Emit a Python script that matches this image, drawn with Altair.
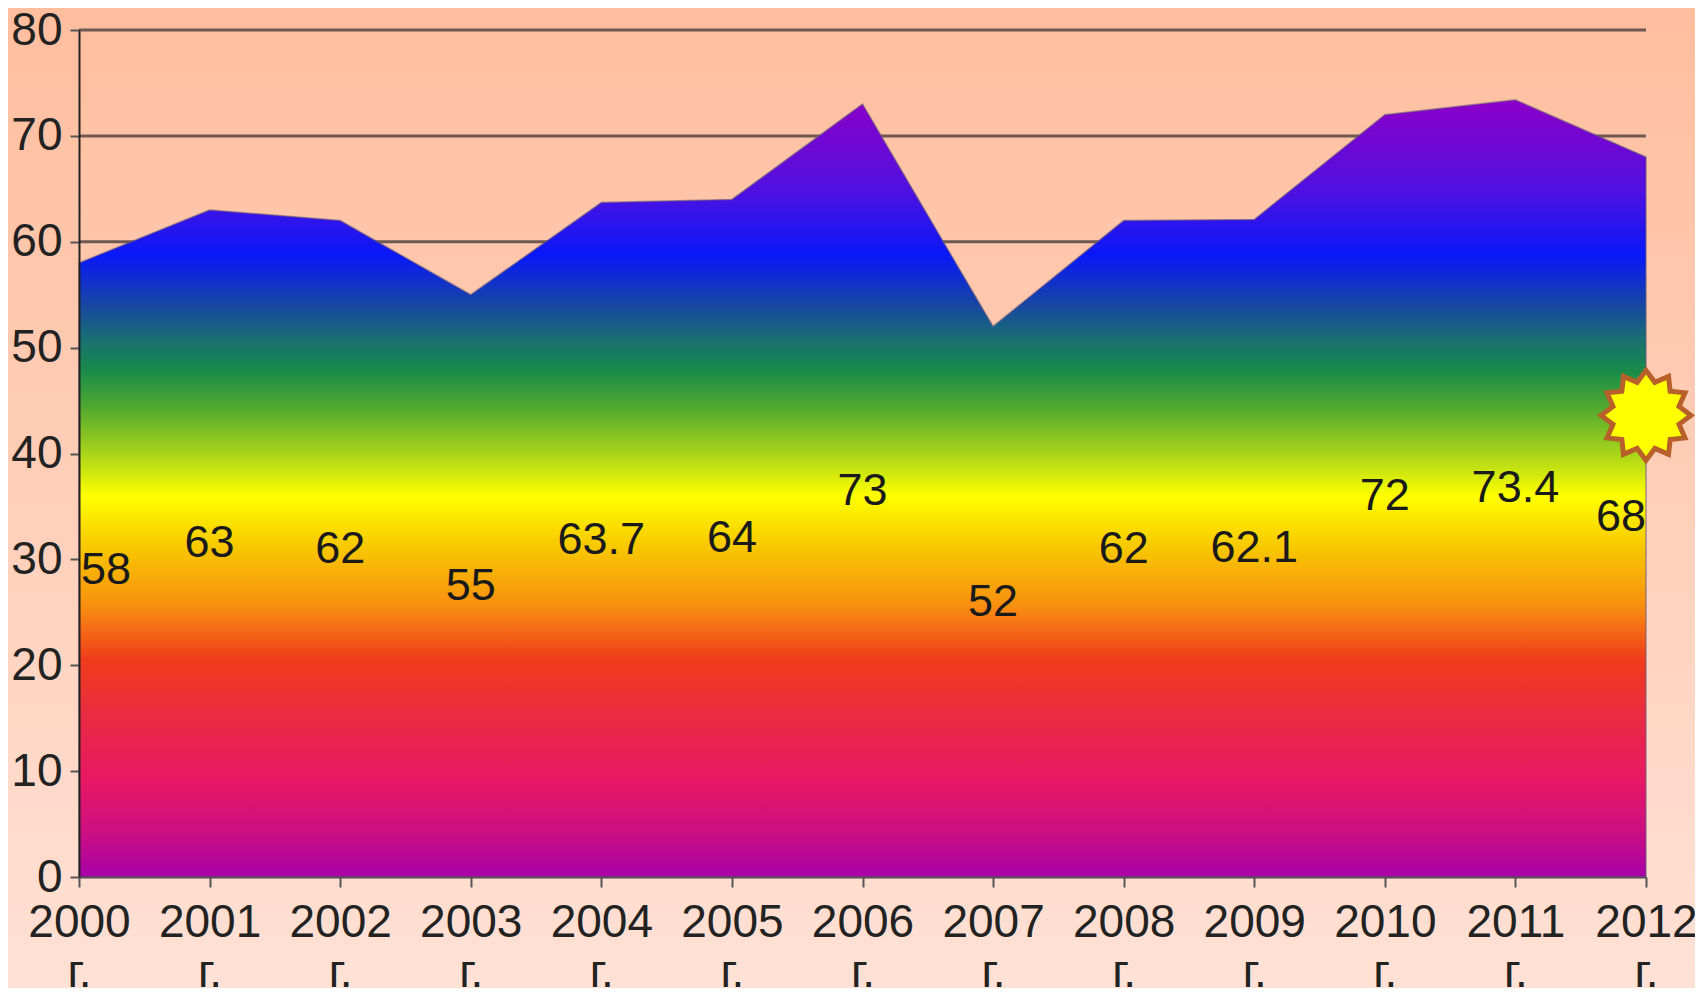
import altair as alt
import pandas as pd
import numpy as np

# ---- data ----
years = [2000, 2001, 2002, 2003, 2004, 2005, 2006, 2007, 2008, 2009, 2010, 2011, 2012]
values = [58, 63, 62, 55, 63.7, 64, 73, 52, 62, 62.1, 72, 73.4, 68]
labels = ["58", "63", "62", "55", "63.7", "64", "73", "52", "62", "62.1", "72", "73.4", "68"]
y_ticks = [0, 10, 20, 30, 40, 50, 60, 70, 80]
grid_values = [10, 20, 30, 40, 50, 60, 70, 80]
year_suffix = "г."
star_year = [2012]
star_value = [43.6]

df = pd.DataFrame({"year": years, "value": values, "label": labels})
df["idx"] = range(len(df))
n = len(df)

W, H = 1567, 847
PAD = {"left": 71, "top": 22, "right": 49, "bottom": 111}

xscale = alt.Scale(domain=[years[0], years[-1]], nice=False, zero=False)
yscale = alt.Scale(domain=[0, 80], nice=False)

xaxis = alt.Axis(
    values=years, format="d", title=None, grid=False,
    labelExpr=f"[datum.label, '{year_suffix}']",
    labelFont="Liberation Sans", labelFontSize=46, labelColor="#222222",
    labelLineHeight=50, labelBaseline="top", labelPadding=13,
    labelFlush=False, labelOverlap=False, labelBound=False,
    tickSize=10, tickColor="#555555", tickWidth=2,
    domainColor="#5a4a5a", domainWidth=2, zindex=1,
)
yaxis = alt.Axis(
    values=y_ticks, title=None, grid=False,
    labelFont="Liberation Sans", labelFontSize=46, labelColor="#222222",
    labelPadding=8, labelOverlap=False, labelBound=False, labelFlush=False,
    tickSize=9, tickColor="#555555", tickWidth=2,
    domainColor="#222222", domainWidth=2, zindex=1,
)

# background gradient (slide backdrop)
bg = alt.Chart(pd.DataFrame({"a": [0]})).mark_rect(
    fill=alt.Gradient(
        gradient="linear", x1=0, x2=0, y1=0, y2=1,
        stops=[alt.GradientStop(color="#FFBE9E", offset=0),
               alt.GradientStop(color="#FFCDB6", offset=0.45),
               alt.GradientStop(color="#FFE1D5", offset=1)],
    )
).encode(
    x=alt.value(-PAD["left"]), x2=alt.value(W + PAD["right"]),
    y=alt.value(-PAD["top"]), y2=alt.value(H + PAD["bottom"]),
)

grid = alt.Chart(pd.DataFrame({"g": grid_values})).mark_rule(
    color="#6E5852", strokeWidth=3
).encode(y=alt.Y("g:Q", scale=yscale, axis=yaxis))

area_grad = alt.Gradient(
    gradient="linear", x1=0, x2=0, y1=0, y2=1,
    stops=[
        alt.GradientStop(color="#8C00C8", offset=0.0),
        alt.GradientStop(color="#5010E0", offset=0.116),
        alt.GradientStop(color="#0818F8", offset=0.20),
        alt.GradientStop(color="#1848A0", offset=0.266),
        alt.GradientStop(color="#187070", offset=0.31),
        alt.GradientStop(color="#1A8C48", offset=0.35),
        alt.GradientStop(color="#50A830", offset=0.395),
        alt.GradientStop(color="#B0D818", offset=0.46),
        alt.GradientStop(color="#FFFF00", offset=0.51),
        alt.GradientStop(color="#F8C800", offset=0.575),
        alt.GradientStop(color="#F89010", offset=0.65),
        alt.GradientStop(color="#F03C1C", offset=0.72),
        alt.GradientStop(color="#E82C40", offset=0.79),
        alt.GradientStop(color="#E81864", offset=0.875),
        alt.GradientStop(color="#CC1080", offset=0.94),
        alt.GradientStop(color="#A800A8", offset=1.0),
    ],
)

area = alt.Chart(df).mark_area(
    fill=area_grad, stroke="#6a5a7a", strokeWidth=1.5, strokeOpacity=0.6,
    interpolate="linear",
).encode(
    x=alt.X("year:Q", scale=xscale, axis=xaxis),
    y=alt.Y("value:Q", scale=yscale, axis=yaxis),
)

def text_layer(filter_expr, align, dx):
    return alt.Chart(df).transform_calculate(
        mid="datum.value / 2"
    ).transform_filter(filter_expr).mark_text(
        font="Liberation Sans", fontSize=45, color="#1a1a1a",
        align=align, baseline="middle", dx=dx,
    ).encode(
        x=alt.X("year:Q", scale=xscale, axis=xaxis),
        y=alt.Y("mid:Q", scale=yscale, axis=yaxis),
        text="label:N",
    )

t_first = text_layer("datum.idx == 0", "left", 2)
t_mid = text_layer(f"datum.idx > 0 && datum.idx < {n - 1}", "center", 0)
t_last = text_layer(f"datum.idx == {n - 1}", "right", 0)

# 12-point star decoration
ang = np.linspace(-np.pi / 2, 3 * np.pi / 2, 24, endpoint=False)
rad = np.where(np.arange(24) % 2 == 0, 1.0, 0.76)
pts = [f"{r * np.cos(a):.3f},{r * np.sin(a):.3f}" for a, r in zip(ang, rad)]
star_path = "M" + " L".join(pts) + " Z"

star = alt.Chart(pd.DataFrame({"year": star_year, "value": star_value})).mark_point(
    shape=star_path, size=8100, filled=True, fill="#FFFF00", fillOpacity=1,
    stroke="#B8602A", strokeWidth=5, opacity=1,
).encode(
    x=alt.X("year:Q", scale=xscale, axis=xaxis),
    y=alt.Y("value:Q", scale=yscale, axis=yaxis),
)

chart = alt.layer(bg, grid, area, t_first, t_mid, t_last, star).properties(
    width=W, height=H,
    autosize=alt.AutoSizeParams(type="none"),
    padding=PAD,
).configure_view(stroke=None).configure(background="#FFD8C8")

chart.save("out.html", embed_options={"renderer": "svg", "actions": False})
